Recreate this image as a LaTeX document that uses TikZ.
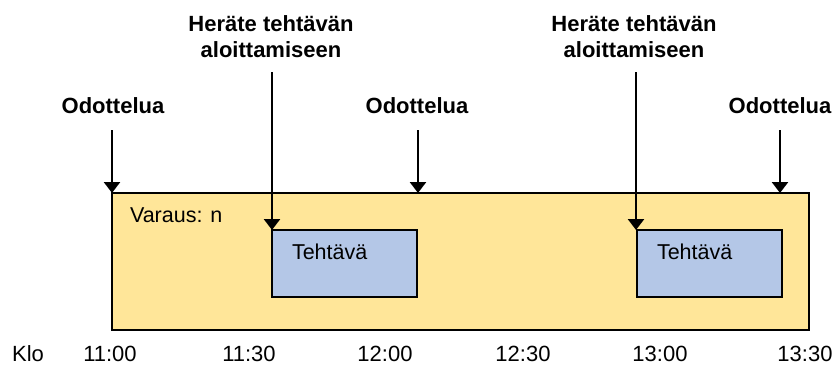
\documentclass[tikz,border=0pt]{standalone}
\usepackage{fontspec}
\setmainfont{Liberation Sans}
\usetikzlibrary{arrows.meta}
\definecolor{resfill}{RGB}{255,230,153}
\definecolor{taskfill}{RGB}{180,199,231}
\begin{document}
\begin{tikzpicture}[x=1pt,y=-1pt,
  every node/.style={inner sep=0pt, outer sep=0pt},
  lbl/.style={font=\fontsize{22}{26}\selectfont\bfseries, align=center, anchor=base},
  tick/.style={font=\fontsize{22}{26}\selectfont, anchor=base},
  plain/.style={font=\fontsize{21.5}{26}\selectfont, anchor=base west},
  slot/.style={draw=black, line width=2.4pt, fill=#1, rectangle},
  pointer/.style={line width=2.6pt, -{Triangle[length=11pt,width=16pt]}}]
  \useasboundingbox (0,0) rectangle (835,365);

  % reservation period and the two tasks inside it
  \node[slot=resfill, minimum width=697pt, minimum height=137pt]
    (res) at (460.5,261.5) {};
  \node[slot=taskfill, minimum width=145pt, minimum height=67pt]
    (task1) at (344.5,263.5) {};
  \node[slot=taskfill, minimum width=145pt, minimum height=67pt]
    (task2) at (709.5,263.5) {};

  \node[plain] (varaus) at (130,222) {Varaus: n};
  \node[plain] (t1) at (292,259) {Tehtävä};
  \node[plain] (t2) at (657,259) {Tehtävä};

  % waiting markers
  \node[lbl] (w1) at (113,113) {Odottelua};
  \node[lbl] (w2) at (417,113) {Odottelua};
  \node[lbl] (w3) at (780,113) {Odottelua};
  \coordinate (w1s) at (112,130);
  \coordinate (w2s) at (418,130);
  \coordinate (w3s) at (780,130);
  \draw[pointer] (w1s) -- (w1s |- res.north);
  \draw[pointer] (w2s) -- (w2s |- res.north);
  \draw[pointer] (w3s) -- (w3s |- res.north);

  % wake-up triggers (base anchor sits on the second line)
  \node[lbl] (h1) at (271,57) {Heräte tehtävän\\aloittamiseen};
  \node[lbl] (h2) at (634,57) {Heräte tehtävän\\aloittamiseen};
  \coordinate (h1s) at (272,72);
  \coordinate (h2s) at (636,72);
  \draw[pointer] (h1s) -- (h1s |- task1.north);
  \draw[pointer] (h2s) -- (h2s |- task2.north);

  % time axis
  \node[tick] (klo) at (28,361) {Klo};
  \node[tick] (k1100) at (110,361) {11:00};
  \node[tick] (k1130) at (249,361) {11:30};
  \node[tick] (k1200) at (385,361) {12:00};
  \node[tick] (k1230) at (523,361) {12:30};
  \node[tick] (k1300) at (660,361) {13:00};
  \node[tick] (k1330) at (805,361) {13:30};
\end{tikzpicture}
\end{document}
